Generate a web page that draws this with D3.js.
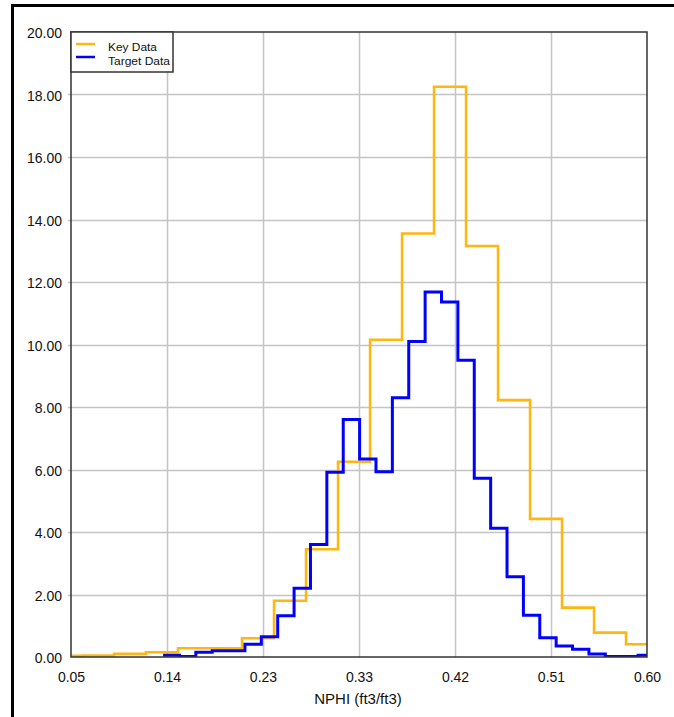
<!DOCTYPE html>
<html>
<head>
<meta charset="utf-8">
<script src="https://cdn.jsdelivr.net/npm/d3@7"></script>
<style>
  html, body { margin: 0; padding: 0; background: #fff; }
  svg { display: block; }
  text { font-family: "Liberation Sans", Arial, Helvetica, sans-serif; fill: #111; }
</style>
</head>
<body>
<svg id="chart" width="674" height="717"></svg>
<script>
// ---- data ----
const xTickValues = [0.05, 0.141667, 0.233333, 0.325, 0.416667, 0.508333, 0.60];
const xTickLabels = ["0.05", "0.14", "0.23", "0.33", "0.42", "0.51", "0.60"];
const yTickValues = [0, 2, 4, 6, 8, 10, 12, 14, 16, 18, 20];
const xTitle = "NPHI (ft3/ft3)";
const seriesNames = ["Key Data", "Target Data"];

// Key Data histogram: first bin left edge, bin width, bin heights
const keyBinStart = 0.03;
const keyBinWidth = 0.030556;
const keyValues = [0.04, 0.05, 0.10, 0.15, 0.28, 0.28, 0.60, 1.80, 3.45, 6.25,
                   10.15, 13.55, 18.25, 13.15, 8.22, 4.42, 1.58, 0.78, 0.41];

// Target Data histogram
const targetBinStart = 0.1379;
const targetBinWidth = 0.01564;
const targetValues = [0.06, 0.02, 0.15, 0.20, 0.20, 0.41, 0.65, 1.32, 2.20, 3.60,
                      5.91, 7.60, 6.34, 5.93, 8.30, 10.10, 11.68, 11.36, 9.50, 5.72,
                      4.12, 2.57, 1.34, 0.62, 0.35, 0.25, 0.10, 0.02, 0.02, 0.06];

// ---- layout ----
const plot = { left: 71, right: 647, top: 32, bottom: 657 };
const colors = { key: "#FFB60F", target: "#0000FF" };

const svg = d3.select("#chart");

// outer frame
svg.append("rect")
  .attr("x", 12.5).attr("y", 5.5)
  .attr("width", 700).attr("height", 800)
  .attr("fill", "none").attr("stroke", "#000").attr("stroke-width", 3);

const x = d3.scaleLinear().domain([0.05, 0.60]).range([plot.left, plot.right]);
const y = d3.scaleLinear().domain([0, 20]).range([plot.bottom, plot.top]);

// plot background
svg.append("rect")
  .attr("x", plot.left).attr("y", plot.top)
  .attr("width", plot.right - plot.left).attr("height", plot.bottom - plot.top)
  .attr("fill", "#fff");

// grid lines
const grid = svg.append("g").attr("stroke", "#c4c4c4").attr("stroke-width", 1.5);
grid.selectAll("line.gx").data(xTickValues.slice(1, -1)).join("line")
  .attr("x1", d => Math.round(x(d)) + 0.5).attr("x2", d => Math.round(x(d)) + 0.5)
  .attr("y1", plot.top).attr("y2", plot.bottom);
grid.selectAll("line.gy").data(yTickValues.slice(1, -1)).join("line")
  .attr("x1", plot.left - 3).attr("x2", plot.right)
  .attr("y1", d => Math.round(y(d)) + 0.5).attr("y2", d => Math.round(y(d)) + 0.5);

// axes (labels)
const xAxis = d3.axisBottom(x)
  .tickValues(xTickValues)
  .tickFormat((d, i) => xTickLabels[i])
  .tickSize(0).tickPadding(15);
const gx = svg.append("g").attr("transform", `translate(0,${plot.bottom})`).call(xAxis);
gx.select(".domain").remove();
gx.selectAll("text").attr("font-size", 14).attr("font-family", null).attr("fill", "#111");

const yAxis = d3.axisLeft(y)
  .tickValues(yTickValues)
  .tickFormat(d3.format(".2f"))
  .tickSize(0).tickPadding(9);
const gy = svg.append("g").attr("transform", `translate(${plot.left},0)`).call(yAxis);
gy.select(".domain").remove();
gy.selectAll("text").attr("font-size", 14).attr("font-family", null).attr("fill", "#111").attr("dy", "0.4em");

// x title
svg.append("text")
  .attr("x", (plot.left + plot.right) / 2 - 1)
  .attr("y", 704)
  .attr("text-anchor", "middle")
  .attr("font-size", 15)
  .text(xTitle);

// clip
svg.append("clipPath").attr("id", "plotclip").append("rect")
  .attr("x", plot.left).attr("y", plot.top - 2)
  .attr("width", plot.right - plot.left).attr("height", plot.bottom - plot.top + 2);

function stepPoints(start, width, values) {
  const pts = values.map((v, i) => [start + i * width, v]);
  pts.push([start + values.length * width, values[values.length - 1]]);
  return pts;
}
const line = d3.line()
  .x(d => x(d[0]))
  .y(d => y(d[1]))
  .curve(d3.curveStepAfter);

const series = svg.append("g").attr("clip-path", "url(#plotclip)");
series.append("path")
  .datum(stepPoints(keyBinStart, keyBinWidth, keyValues))
  .attr("d", line)
  .attr("fill", "none").attr("stroke", colors.key).attr("stroke-width", 2.6)
  .attr("stroke-linejoin", "miter");
series.append("path")
  .datum(stepPoints(targetBinStart, targetBinWidth, targetValues))
  .attr("d", line)
  .attr("fill", "none").attr("stroke", colors.target).attr("stroke-width", 3)
  .attr("stroke-linejoin", "miter");

// plot border
svg.append("rect")
  .attr("x", plot.left).attr("y", plot.top)
  .attr("width", plot.right - plot.left).attr("height", plot.bottom - plot.top)
  .attr("fill", "none").attr("stroke", "#333").attr("stroke-width", 1.5);

// legend
const legend = svg.append("g");
legend.append("rect")
  .attr("x", plot.left).attr("y", plot.top)
  .attr("width", 102).attr("height", 40)
  .attr("fill", "#fff").attr("stroke", "#333").attr("stroke-width", 1.5);
const legItems = [
  { name: seriesNames[0], color: colors.key, ly: 44, ty: 50.5, w: 49 },
  { name: seriesNames[1], color: colors.target, ly: 57, ty: 64.5, w: 62 }
];
legItems.forEach(it => {
  legend.append("line")
    .attr("x1", plot.left + 5).attr("x2", plot.left + 24)
    .attr("y1", it.ly).attr("y2", it.ly)
    .attr("stroke", it.color).attr("stroke-width", 2.5);
  legend.append("text")
    .attr("x", 108).attr("y", it.ty)
    .attr("font-size", 11.5)
    .attr("textLength", it.w)
    .attr("lengthAdjust", "spacingAndGlyphs")
    .text(it.name);
});
</script>
</body>
</html>
